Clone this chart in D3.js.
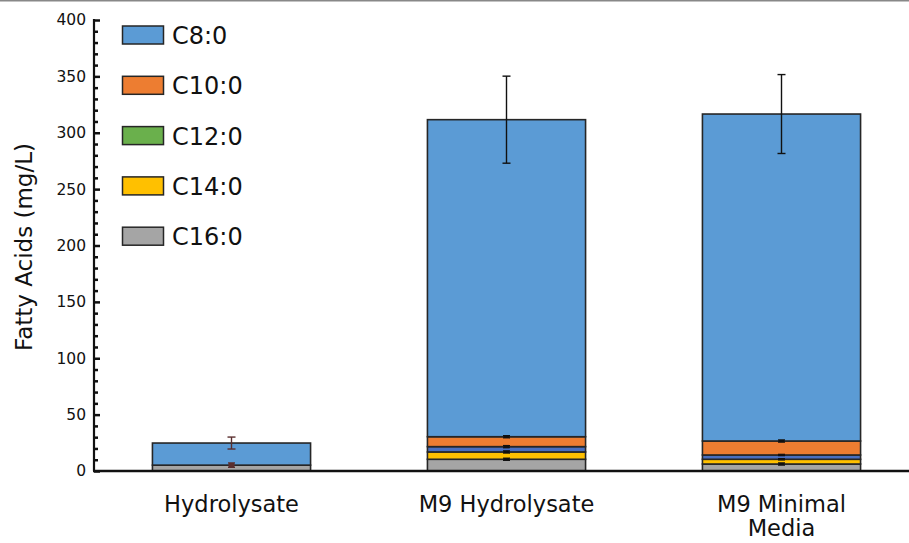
<!DOCTYPE html>
<html>
<head>
<meta charset="utf-8">
<script src="https://cdn.jsdelivr.net/npm/d3@7"></script>
<style>
  html, body { margin: 0; padding: 0; background: #fff; }
  svg { display: block; font-family: "DejaVu Sans", Verdana, sans-serif; }
</style>
</head>
<body>
<svg id="chart" width="909" height="543"></svg>
<script>
// ---- data ----
const categories = ["Hydrolysate", "M9 Hydrolysate", "M9 Minimal Media"];
const seriesNames = ["C16:0", "C14:0", "C12:0", "C10:0", "C8:0"]; // stack order bottom -> top
const legendOrder = ["C8:0", "C10:0", "C12:0", "C14:0", "C16:0"];
const C16 = [5.2, 10.4, 6.2];
const C14 = [0, 6.5, 4.2];
const C12 = [0, 4.7, 3.8];
const C10 = [0, 8.8, 12.4];
const C8  = [19.6, 281.2, 290.0];
const errC16 = [2.0, 1.0, 1.0];
const errC14 = [0, 1.0, 0.6];
const errC12 = [0, 1.0, 0.6];
const errC10 = [0, 1.0, 1.0];
const errC8  = [5.3, 38.6, 35.0];
const yTicks = [0, 50, 100, 150, 200, 250, 300, 350, 400];

const values = { "C16:0": C16, "C14:0": C14, "C12:0": C12, "C10:0": C10, "C8:0": C8 };
const errors = { "C16:0": errC16, "C14:0": errC14, "C12:0": errC12, "C10:0": errC10, "C8:0": errC8 };
const legendColor = { "C8:0": "#5B9BD5", "C10:0": "#ED7D31", "C12:0": "#6AB04C", "C14:0": "#FFC000", "C16:0": "#A5A5A5" };
const barColor = { "C8:0": "#5B9BD5", "C10:0": "#ED7D31", "C12:0": "#4A6FBF", "C14:0": "#FFC000", "C16:0": "#A5A5A5" };

const table = categories.map((c, i) => {
  const row = { cat: c };
  seriesNames.forEach(s => row[s] = values[s][i]);
  return row;
});

// ---- layout ----
const svg = d3.select("#chart");
const x0 = 94, yBottom = 471, yTop = 20;

svg.append("line").attr("x1", 0).attr("x2", 909).attr("y1", 0.5).attr("y2", 0.5)
  .attr("stroke", "#888").attr("stroke-width", 2);

const y = d3.scaleLinear().domain([0, 400]).range([yBottom, yTop]);
const x = d3.scaleBand().domain(categories).range([x0, x0 + 825]).paddingInner(0.425).paddingOuter(0.2125);

const stack = d3.stack().keys(seriesNames)(table);

const g = svg.append("g");
stack.forEach(layer => {
  g.selectAll(null).data(layer.filter(d => d[1] - d[0] > 0)).enter().append("rect")
    .attr("x", d => x(d.data.cat))
    .attr("width", x.bandwidth())
    .attr("y", d => y(d[1]))
    .attr("height", d => y(d[0]) - y(d[1]))
    .attr("fill", barColor[layer.key])
    .attr("stroke", "#262626")
    .attr("stroke-width", 1.6);
});

// error bars
stack.forEach(layer => {
  layer.forEach((d, i) => {
    const e = errors[layer.key][i];
    if (!(e > 0) || d[1] - d[0] <= 0) return;
    const cx = x(d.data.cat) + x.bandwidth() / 2;
    const col = i === 0 ? "#5a2e2e" : "#111";
    const big = e > 3;
    const cap = big ? 4 : 3.5;
    g.append("line").attr("x1", cx).attr("x2", cx).attr("y1", y(d[1] + e)).attr("y2", y(d[1] - e))
      .attr("stroke", col).attr("stroke-width", big ? 1.4 : 6);
    [d[1] + e, d[1] - e].forEach(v => {
      g.append("line").attr("x1", cx - cap).attr("x2", cx + cap).attr("y1", y(v)).attr("y2", y(v))
        .attr("stroke", col).attr("stroke-width", big ? 1.4 : 1.2);
    });
  });
});

// y axis
const minorTicks = d3.range(0, 401, 10).filter(v => v % 50 !== 0);
const axMinor = svg.append("g").attr("transform", `translate(${x0},0)`)
  .call(d3.axisLeft(y).tickValues(minorTicks).tickSize(-4).tickFormat(""));
const axMajor = svg.append("g").attr("transform", `translate(${x0},0)`)
  .call(d3.axisLeft(y).tickValues(yTicks).tickSize(-6).tickPadding(8).tickFormat(d3.format("d")));
[axMinor, axMajor].forEach(a => {
  a.select(".domain").remove();
  a.selectAll(".tick line").attr("stroke", "#111").attr("stroke-width", 2.5);
});
axMajor.selectAll(".tick text").attr("font-size", 15.5).attr("fill", "#111")
  .attr("font-family", "DejaVu Sans, Verdana, sans-serif");

svg.append("line").attr("x1", x0).attr("x2", x0).attr("y1", yTop - 1).attr("y2", yBottom)
  .attr("stroke", "#111").attr("stroke-width", 2.2);
svg.append("line").attr("x1", x0 - 1).attr("x2", 909).attr("y1", yBottom).attr("y2", yBottom)
  .attr("stroke", "#111").attr("stroke-width", 2.5);

// category labels
categories.forEach(c => {
  const cx = x(c) + x.bandwidth() / 2;
  const words = c === "M9 Minimal Media" ? ["M9 Minimal", "Media"] : [c];
  const t = svg.append("text").attr("x", cx).attr("y", 512).attr("text-anchor", "middle")
    .attr("font-size", 22.5).attr("fill", "#111");
  words.forEach((w, k) => t.append("tspan").attr("x", cx).attr("dy", k === 0 ? 0 : 24).text(w));
});

// y title
svg.append("text").attr("transform", "translate(32,247) rotate(-90)").attr("text-anchor", "middle")
  .attr("font-size", 23).attr("fill", "#111").text("Fatty Acids (mg/L)");

// legend
legendOrder.forEach((s, k) => {
  const ly = 26 + k * 50.3;
  svg.append("rect").attr("x", 122.5).attr("y", ly).attr("width", 41).attr("height", 18)
    .attr("fill", legendColor[s]).attr("stroke", "#262626").attr("stroke-width", 1.5);
  svg.append("text").attr("x", 172).attr("y", ly + 18).attr("font-size", 24).attr("fill", "#111").text(s);
});
</script>
</body>
</html>
